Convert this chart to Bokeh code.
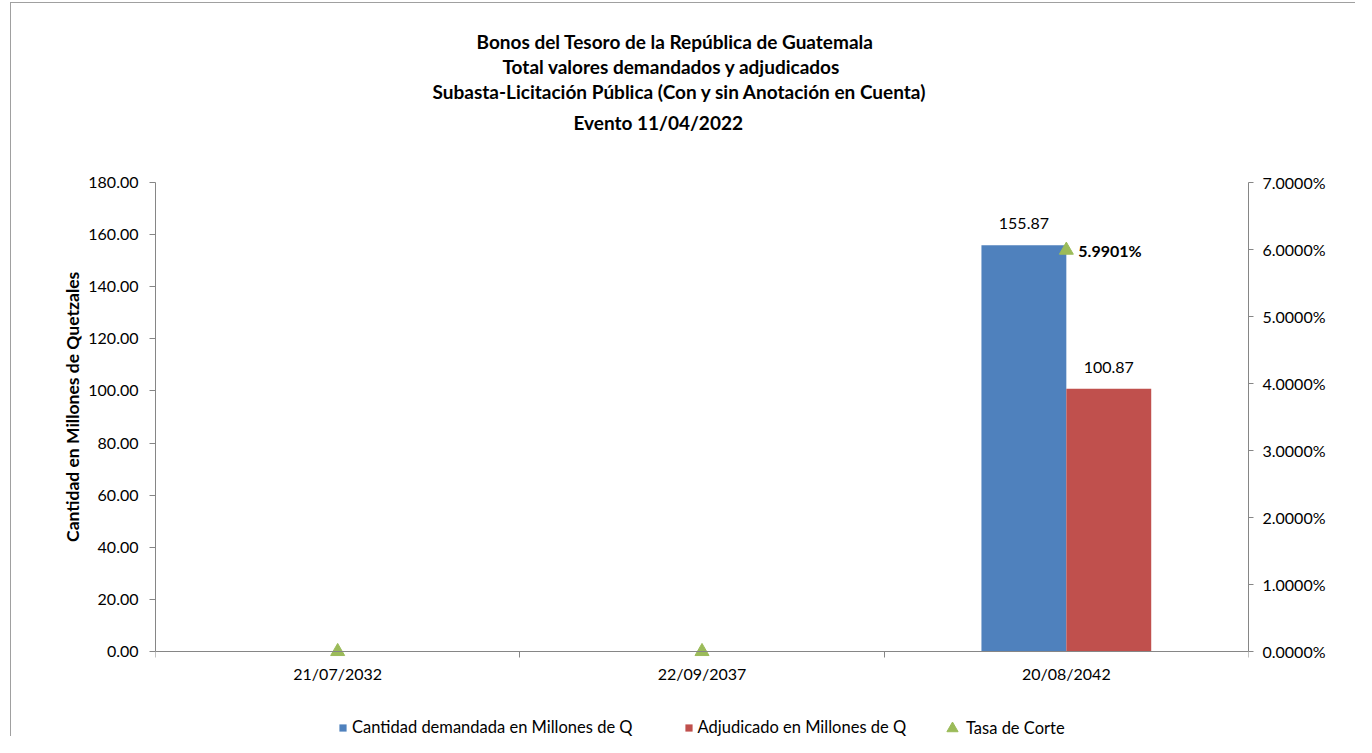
import numpy as np
from bokeh.plotting import figure
from bokeh.models import (Range1d, LinearAxis, FixedTicker, PrintfTickFormatter,
                          Title, Legend, LegendItem, ColumnDataSource)
from bokeh.core.properties import value
from bokeh.embed import file_html
from bokeh.resources import INLINE

categories = ["21/07/2032", "22/09/2037", "20/08/2042"]
demandado = [0.0, 0.0, 155.87]
adjudicado = [0.0, 0.0, 100.87]
tasa = [0.0, 0.0, 5.9901]

title_lines = ["Bonos del Tesoro de la República de Guatemala",
               "Total valores demandados y adjudicados",
               "Subasta-Licitación Pública (Con y sin Anotación en Cuenta)"]
event_line = "Evento 11/04/2022"
y_label = "Cantidad en Millones de Quetzales"

BLUE = "#4F81BD"
RED = "#C0504D"
GREEN = "#9BBB59"
AXIS = "#868686"
FONT = "Lato"

Y_MAX = 180
R_MAX = 7
# pixel geometry of the plotting area (frame extends below the zero line
# so the category labels and legend can live inside it)
PX_TOP, PX_ZERO, PX_BOTTOM = 182, 651, 737
below_frac = (PX_BOTTOM - PX_ZERO) / (PX_ZERO - PX_TOP)

n = len(categories)
centers = np.arange(n) + 0.5
bw = 0.233

p = figure(width=1345, height=734, output_backend="svg", toolbar_location=None,
           x_range=Range1d(0, n), y_range=Range1d(-Y_MAX * below_frac, Y_MAX),
           min_border_left=144, min_border_right=108, min_border_top=179,
           min_border_bottom=0)
p.styles = {"border-top": "1px solid #A0A0A0", "border-left": "1px solid #A0A0A0",
            "margin-left": "10px", "margin-top": "2px"}
p.outline_line_color = None
p.xgrid.visible = False
p.ygrid.visible = False

p.extra_y_ranges = {"rate": Range1d(-R_MAX * below_frac, R_MAX)}

# Titles: added nearest-to-plot first
tstyle = dict(text_font=FONT, text_font_size="19px", text_font_style="bold",
              text_color="#000000", align="left")
p.add_layout(Title(text=" ", text_font=FONT, text_font_size="19px", standoff=18), "above")
p.add_layout(Title(text=event_line, offset=418, standoff=12, **tstyle), "above")
for line, off in zip(reversed(title_lines), [277, 347, 321]):
    p.add_layout(Title(text=line, offset=off, standoff=0, **tstyle), "above")

# Bars
src = ColumnDataSource(dict(xb=centers - bw / 2, xr=centers + bw / 2,
                            dem=demandado, adj=adjudicado, tasa=tasa, xc=centers))
r_dem = p.vbar(x="xb", top="dem", width=bw, bottom=0, source=src,
               fill_color=BLUE, line_color=None)
r_adj = p.vbar(x="xr", top="adj", width=bw, bottom=0, source=src,
               fill_color=RED, line_color=None)
r_tas = p.scatter(x="xc", y="tasa", source=src, marker="triangle", size=14,
                  fill_color=GREEN, line_color=GREEN, y_range_name="rate")

# Data labels (non-zero only)
dl_x, dl_y, dl_t = [], [], []
for i in range(n):
    if demandado[i] > 0:
        dl_x.append(centers[i] - bw / 2); dl_y.append(demandado[i]); dl_t.append(f"{demandado[i]:.2f}")
    if adjudicado[i] > 0:
        dl_x.append(centers[i] + bw / 2); dl_y.append(adjudicado[i]); dl_t.append(f"{adjudicado[i]:.2f}")
p.text(x=dl_x, y=dl_y, text=dl_t, text_align="center", text_baseline="bottom",
       y_offset=-16, text_font=value(FONT), text_font_size="16px", text_color="#000000")

tx = [centers[i] for i in range(n) if tasa[i] > 0]
ty = [tasa[i] for i in range(n) if tasa[i] > 0]
tt = [f"{tasa[i]:.4f}%" for i in range(n) if tasa[i] > 0]
p.text(x=tx, y=ty, text=tt, text_align="left", text_baseline="middle",
       x_offset=12, text_font=value(FONT), text_font_size="16px",
       text_font_style="bold", text_color="#000000", y_range_name="rate")

# Left axis (label padded with leading no-break spaces so it centres on the 0-180 span)
ya = p.yaxis[0]
ya.bounds = (0, Y_MAX)
ya.ticker = FixedTicker(ticks=list(range(0, Y_MAX + 1, 20)))
ya.formatter = PrintfTickFormatter(format="%.2f")
ya.axis_label = "\u00a0" * 25 + y_label
ya.axis_label_text_font = FONT
ya.axis_label_text_font_size = "17.5px"
ya.axis_label_text_font_style = "bold"
ya.axis_label_text_color = "#000000"
ya.axis_label_standoff = 2
ya.major_label_text_font = FONT
ya.major_label_text_font_size = "16px"
ya.major_label_text_color = "#000000"
ya.axis_line_color = AXIS
ya.major_tick_line_color = AXIS
ya.major_tick_out = 6
ya.major_tick_in = 0
ya.minor_tick_line_color = None
ya.major_label_standoff = 11

# Right axis
ra = LinearAxis(y_range_name="rate", ticker=FixedTicker(ticks=list(range(0, R_MAX + 1))),
                formatter=PrintfTickFormatter(format="%.4f%%"), bounds=(0, R_MAX))
ra.major_label_text_font = FONT
ra.major_label_text_font_size = "16px"
ra.major_label_text_color = "#000000"
ra.axis_line_color = AXIS
ra.major_tick_line_color = AXIS
ra.major_tick_out = 5
ra.major_tick_in = 0
ra.minor_tick_line_color = None
ra.major_label_standoff = 9
p.add_layout(ra, "right")

# X axis, fixed at the zero line
xa = p.xaxis[0]
xa.fixed_location = 0
xa.ticker = FixedTicker(ticks=list(centers), minor_ticks=list(range(0, n + 1)))
xa.major_label_overrides = {float(c): lab for c, lab in zip(centers, categories)}
xa.major_label_text_font = FONT
xa.major_label_text_font_size = "16px"
xa.major_label_text_color = "#000000"
xa.axis_line_color = AXIS
xa.major_tick_line_color = None
xa.major_tick_out = 0
xa.major_tick_in = 0
xa.minor_tick_line_color = AXIS
xa.minor_tick_out = 6
xa.minor_tick_in = 0
xa.major_label_standoff = 6

# Legends (bars and marker separately so the marker can be larger)
lstyle = dict(orientation="horizontal", padding=0, margin=0, border_line_color=None,
              background_fill_alpha=0, label_text_font=FONT,
              label_text_font_size="16.5px", label_text_color="#000000")
leg_bars = Legend(items=[LegendItem(label="Cantidad demandada en Millones de Q", renderers=[r_dem]),
                         LegendItem(label="Adjudicado en Millones de Q", renderers=[r_adj])],
                  location=(183, 0), glyph_width=9, glyph_height=9, label_standoff=5,
                  spacing=51, **lstyle)
leg_tri = Legend(items=[LegendItem(label="Tasa de Corte", renderers=[r_tas])],
                 location=(783, -5), glyph_width=28, glyph_height=28, label_standoff=0,
                 **lstyle)
p.add_layout(leg_bars, "center")
p.add_layout(leg_tri, "center")

open("out.html", "w").write(file_html(p, INLINE))
